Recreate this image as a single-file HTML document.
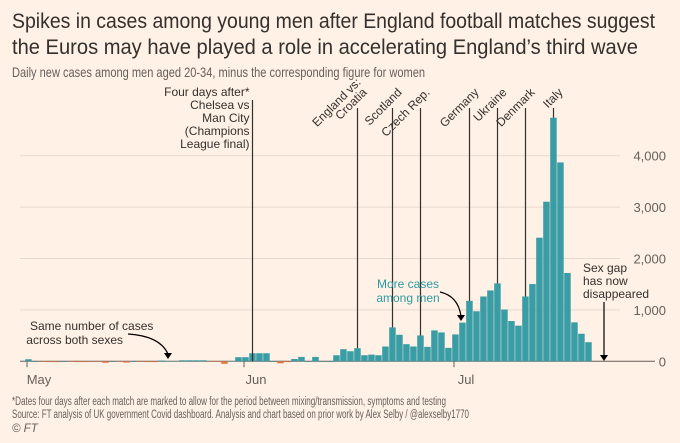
<!DOCTYPE html>
<html><head><meta charset="utf-8"><style>
html,body{margin:0;padding:0;background:#fff1e5;}
svg{display:block;font-family:"Liberation Sans",sans-serif;}
</style></head><body>
<svg width="680" height="443" viewBox="0 0 680 443">
<rect width="680" height="443" fill="#fff1e5"/>
<text x="12" y="28" font-size="21" fill="#33302e" textLength="643" lengthAdjust="spacingAndGlyphs">Spikes in cases among young men after England football matches suggest</text>
<text x="12" y="54" font-size="21" fill="#33302e" textLength="626" lengthAdjust="spacingAndGlyphs">the Euros may have played a role in accelerating England’s third wave</text>
<text x="12" y="77" font-size="14" fill="#66605c" textLength="413" lengthAdjust="spacingAndGlyphs">Daily new cases among men aged 20-34, minus the corresponding figure for women</text>
<g id="grid"></g>
<g id="bars"></g>
<g id="annots"></g>
<text x="30" y="330" font-size="12" fill="#33302e">Same number of cases</text>
<text x="123" y="344" font-size="12" fill="#33302e" text-anchor="end">across both sexes</text>
<path d="M128,334 Q160,336 168,354" fill="none" stroke="#000" stroke-width="1.2"/>
<path d="M164,353 L168,359 L172,353 Z" fill="#000"/>
<text x="408" y="288" font-size="12" fill="#2e9aa3" text-anchor="middle">More cases</text>
<text x="408" y="302" font-size="12" fill="#2e9aa3" text-anchor="middle">among men</text>
<path d="M440,292 Q458,296 461,316" fill="none" stroke="#000" stroke-width="1.2"/>
<path d="M457,315 L461,321 L465,315 Z" fill="#000"/>
<text x="583" y="272" font-size="12" fill="#33302e">Sex gap</text>
<text x="583" y="285" font-size="12" fill="#33302e">has now</text>
<text x="583" y="298" font-size="12" fill="#33302e">disappeared</text>
<line x1="604" y1="302" x2="604" y2="356" stroke="#000" stroke-width="1.2"/>
<path d="M600,355 L604,361 L608,355 Z" fill="#000"/>
<g font-size="11.5" fill="#66605c">
<text x="12" y="405" textLength="434" lengthAdjust="spacingAndGlyphs">*Dates four days after each match are marked to allow for the period between mixing/transmission, symptoms and testing</text>
<text x="12" y="418" textLength="457" lengthAdjust="spacingAndGlyphs">Source: FT analysis of UK government Covid dashboard. Analysis and chart based on prior work by Alex Selby / @alexselby1770</text>
<text x="12" y="432" font-style="italic">© FT</text>
</g>
</svg>
<script>
// data: bar index 0 = 30 April
const values = [40,0,-5,-15,-15,0,-5,-15,-15,-5,-5,-30,0,-5,-25,0,-5,-15,-15,15,5,5,20,20,20,20,-5,-5,-50,5,80,80,157,157,157,0,-40,-15,45,85,0,85,0,0,118,235,196,255,118,130,118,288,660,516,333,288,503,281,601,562,261,523,752,1176,974,1261,1379,1516,1007,784,693,1261,1503,2405,3105,4739,3869,1719,758,536,372];
const yTicks = [0,1000,2000,3000,4000];
const yTickLabels = ["0","1,000","2,000","3,000","4,000"];
const monthLabels = ["May","Jun","Jul"];
const monthDays = [1,32,62];
const matchLabels = [["Four days after*","Chelsea vs","Man City","(Champions","League final)"],["England vs:","Croatia"],["Scotland"],["Czech Rep."],["Germany"],["Ukraine"],["Denmark"],["Italy"]];
const matchBars = [32,47,52,56,63,67,71,75];

const NS="http://www.w3.org/2000/svg";
const y0=361.3, pxPer=0.0514;
function xScale(d){return 20+7*d;}
function barX(i){return 24.9+7*i;}
function yScale(v){return y0 - v*pxPer;}
function mk(tag,attrs,parent){const e=document.createElementNS(NS,tag);for(const k in attrs)e.setAttribute(k,attrs[k]);parent.appendChild(e);return e;}
const grid=document.getElementById('grid'),bars=document.getElementById('bars'),ann=document.getElementById('annots');
yTicks.forEach((t,i)=>{
  const y=yScale(t);
  if(t!==0){const l=mk('line',{x1:20,x2:620,y1:y,y2:y,stroke:'#e6d9ce','stroke-width':1},grid);
  
  }
  const tx=mk('text',{x:666,y:y+5,'font-size':13,fill:'#66605c','text-anchor':'end'},grid);
  tx.textContent=yTickLabels[i];
  
  
});
values.forEach((v,i)=>{
  const x=barX(i)+0.3, ya=yScale(Math.max(v,0)), yb=yScale(Math.min(v,0));
  const r=mk('rect',{x:x,y:ya,width:6.5,height:Math.max(yb-ya,0.5),fill:v>=0?'#3a9da5':'#e47c4a'},bars);
  
  
});
const zl=mk('line',{x1:20,x2:655,y1:y0,y2:y0,stroke:'#66605c','stroke-width':1},grid);


monthDays.forEach((d,i)=>{
  const x=xScale(d);
  const tk=mk('line',{x1:x,x2:x,y1:y0,y2:y0+6,stroke:'#66605c'},grid);
  
  
  const t=mk('text',{x:x+12,y:384,'font-size':13,fill:'#66605c','text-anchor':'middle'},grid);
  t.textContent=monthLabels[i];
  
  
});
matchBars.forEach((b,i)=>{
  const x=barX(b)+3.6;
  const bottom=Math.min(y0,yScale(values[b]));
  const top=i===0?100:108;
  const l=mk('line',{x1:x,x2:x,y1:top,y2:i===0?y0:bottom,stroke:'#33302e','stroke-width':1.2},ann);
  
  
  if(i===0){
    matchLabels[0].forEach((s,j)=>{
      const t=mk('text',{x:x-3,y:96+13*j,'font-size':12,fill:'#33302e','text-anchor':'end'},ann);
      t.textContent=s;
      
      
    });
  } else {
    const lines=matchLabels[i];
    lines.forEach((s,j)=>{
      const k=lines.length-1-j;
      const ax=x+10-6*k, ay=93-10*k;
      const t=mk('text',{x:ax,y:ay,'font-size':12,fill:'#33302e','text-anchor':'end',transform:`rotate(-45 ${ax} ${ay})`},ann);
      t.textContent=s;
      
      
    });
  }
});
</script>
</body></html>
